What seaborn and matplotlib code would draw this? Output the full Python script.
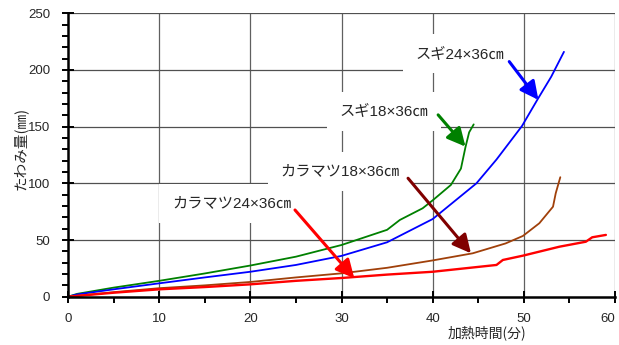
import matplotlib
matplotlib.use("Agg")
import matplotlib.pyplot as plt
import seaborn as sns
import pandas as pd
from matplotlib.ticker import MultipleLocator

# ---- data ----
sugi18_x = [0, 1, 5, 10, 15, 20, 25, 30, 35, 36.4, 38.9, 40, 42, 43.1, 43.6, 44, 44.5]
sugi18_y = [0, 2.5, 8, 14, 20.5, 27.5, 35.3, 45.6, 59, 67.7, 78, 85, 98.6, 113, 132, 145, 152]

sugi24_x = [0, 1, 5, 10, 15, 20, 25, 30, 35, 40, 44.8, 47, 49.8, 51.5, 53, 54.4]
sugi24_y = [0, 2, 6.5, 11.8, 17, 22, 28, 36, 48, 68.5, 100, 121, 150.6, 174, 194, 216]

kara18_x = [0, 5, 10, 15, 20, 25, 30, 35, 40, 44.4, 48, 49.9, 51.7, 53.2, 53.5, 54]
kara18_y = [0, 4, 7.5, 10, 13, 17, 20.6, 25.5, 32, 38.3, 47, 53.6, 64.8, 79.4, 91.3, 105.4]

kara24_x = [0, 5, 10, 15, 20, 25, 30, 35, 40, 47, 47.7, 49.9, 53.9, 56.8, 57.5, 59]
kara24_y = [0, 3.5, 6.5, 8.5, 10.9, 14, 16.5, 19.5, 22, 28, 32.4, 36.2, 44.1, 48.5, 52.4, 54.5]

series_names = ["スギ18×36㎝", "スギ24×36㎝", "カラマツ18×36㎝", "カラマツ24×36㎝"]
series_colors = ["#008000", "#0000FF", "#A0400A", "#FF0000"]

x_label = "加熱時間(分)"
y_label = "たわみ量(㎜)"

# ---- build long table ----
frames = []
for name, xs, ys in zip(series_names,
                        [sugi18_x, sugi24_x, kara18_x, kara24_x],
                        [sugi18_y, sugi24_y, kara18_y, kara24_y]):
    frames.append(pd.DataFrame({"time": xs, "defl": ys, "series": name}))
df = pd.concat(frames, ignore_index=True)

sns.set_style("white")
plt.rcParams["font.family"] = ["Liberation Sans", "Noto Sans CJK JP", "DejaVu Sans"]

fig = plt.figure(figsize=(6.19, 3.45), dpi=100)
ax = fig.add_axes([68/619, 1 - 296.7/345, (615 - 68)/619, (296.7 - 13.3)/345])

# grid
ax.set_xlim(0, 60)
ax.set_ylim(0, 250)
for gx in range(10, 61, 10):
    ax.axvline(gx, color="#606060", lw=0.9, zorder=0)
for gy in range(50, 251, 50):
    ax.axhline(gy, color="#505050", lw=0.9, zorder=0)

palette = dict(zip(series_names, series_colors))
sns.lineplot(data=df, x="time", y="defl", hue="series", palette=palette,
             legend=False, ax=ax, lw=1.3, zorder=4, estimator=None, sort=False)
for line in ax.get_lines()[-4:]:
    if line.get_color().lower() in ("#ff0000", "red"):
        line.set_linewidth(1.7)

# spines / ticks
for s in ["top", "right"]:
    ax.spines[s].set_visible(False)
for s in ["left", "bottom"]:
    ax.spines[s].set_color("black")
    ax.spines[s].set_linewidth(1.8)
    ax.spines[s].set_zorder(6)

ax.xaxis.set_major_locator(MultipleLocator(10))
ax.xaxis.set_minor_locator(MultipleLocator(5))
ax.yaxis.set_major_locator(MultipleLocator(50))
ax.yaxis.set_minor_locator(MultipleLocator(10))
ax.tick_params(which="major", direction="inout", length=8, width=1.4, color="black",
               labelsize=9.5, left=True, bottom=True)
ax.tick_params(which="minor", direction="out", length=4, width=1.4, color="black",
               left=True, bottom=True)
ax.tick_params(axis="y", which="major", pad=9)
ax.tick_params(axis="x", which="major", pad=8)
ax.set_xlabel("")
ax.set_ylabel("")
for lab in ax.get_xticklabels():
    if lab.get_text() == "60":
        lab.set_horizontalalignment("right")
        lab.set_x(60)

fig.text(487/619, 1 - 333/345, x_label, ha="center", va="center", fontsize=10,
         family=["Noto Sans CJK JP", "DejaVu Sans"])
fig.text(20/619, 1 - 148/345, y_label, ha="center", va="center", fontsize=10.5,
         rotation=90, family=["Noto Sans CJK JP", "DejaVu Sans"])

# labels with white boxes
box = dict(facecolor="white", edgecolor="none", pad=9)
ax.text(38.1, 214.5, series_names[1], fontsize=11, ha="left", va="center",
        bbox=box, zorder=3)
ax.text(29.8, 163.5, series_names[0], fontsize=11, ha="left", va="center",
        bbox=box, zorder=3)
ax.text(23.3, 110.5, series_names[2], fontsize=11, ha="left", va="center",
        bbox=box, zorder=3)
ax.text(11.4, 82.5, series_names[3], fontsize=11, ha="left", va="center",
        bbox=box, zorder=3)

# arrows
arrows = [
    ((48.4, 207.4), (51.6, 173.6), "#0000FF"),
    ((40.6, 160.4), (43.6, 132.4), "#008000"),
    ((37.3, 104.5), (44.2, 38.3), "#800000"),
    ((24.9, 76.5), (31.4, 16.3), "#FF0000"),
]
for start, end, col in arrows:
    ax.annotate("", xy=end, xytext=start,
                arrowprops=dict(arrowstyle="-|>,head_length=1.1,head_width=0.55",
                                color=col, lw=2.2, shrinkA=0, shrinkB=0),
                zorder=5)

fig.savefig("out.png", dpi=100)
